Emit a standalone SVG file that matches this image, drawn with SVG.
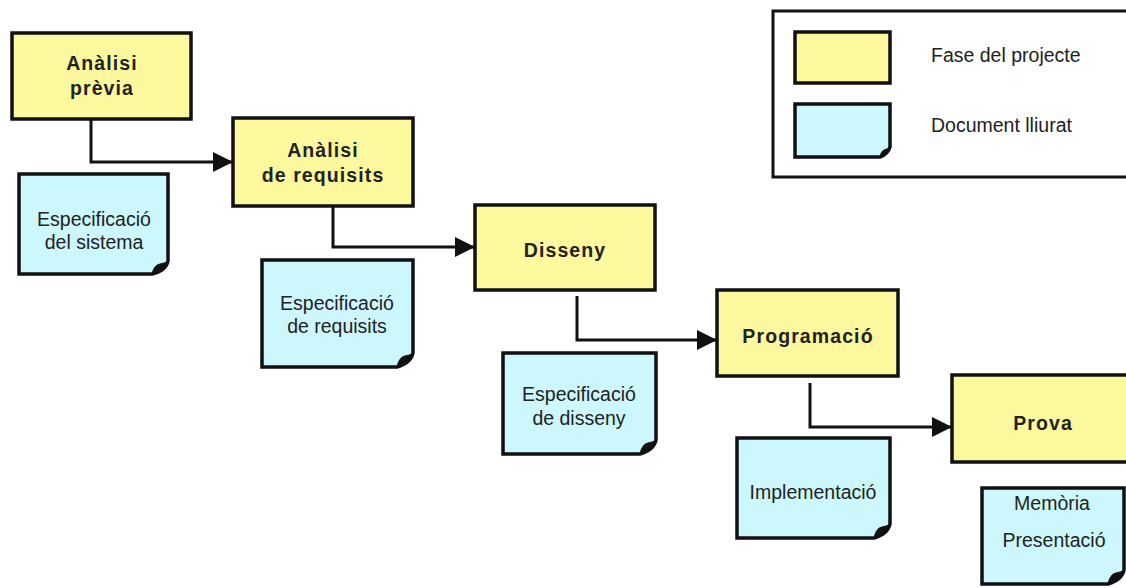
<svg xmlns="http://www.w3.org/2000/svg" width="1126" height="588" viewBox="0 0 1126 588">
  <style>
    .phase { fill: #FCF89E; stroke: #111; stroke-width: 3.5; }
    .doc { fill: #CCF7FC; stroke: #111; stroke-width: 3.5; stroke-linejoin: miter; }
    .curl { fill: #111; stroke: #111; stroke-width: 1; }
    .frame { fill: #fff; stroke: #111; stroke-width: 3; }
    .ptext { font-family: "Liberation Sans", Arial, sans-serif; font-weight: bold; font-size: 19.5px; letter-spacing: 1.1px; fill: #222; text-anchor: middle; }
    .dtext { font-family: "Liberation Sans", Arial, sans-serif; font-size: 19.5px; fill: #222; text-anchor: middle; }
    .ltext { font-family: "Liberation Sans", Arial, sans-serif; font-size: 19.5px; fill: #222; }
    .flow { fill: none; stroke: #111; stroke-width: 3; marker-end: url(#arrow); }
  </style>
  <defs>
    <marker id="arrow" markerUnits="userSpaceOnUse" markerWidth="22" markerHeight="22" viewBox="0 0 22 22" refX="21" refY="11" orient="auto">
      <path d="M1,1 L21,11 L1,21 Z" fill="#111"/>
    </marker>
  </defs>
  <rect width="1126" height="588" fill="#fff"/>

  <!-- legend -->
  <g id="legend">
    <rect class="frame" x="773" y="11" width="360" height="166"/>
    <rect class="phase" x="795" y="32" width="95" height="51"/>
    <path class="doc" d="M795,104 H890 V147 Q888,154 880,157 H795 Z"/>
    <path class="curl" d="M880,157 Q881,151 884,150 Q888,149 890,147 Q888,154 880,157 Z"/>
    <text class="ltext" x="931" y="62">Fase del projecte</text>
    <text class="ltext" x="931" y="132">Document lliurat</text>
  </g>

  <!-- connectors -->
  <g id="connectors">
    <path class="flow" d="M91,119 V162 H233"/>
    <path class="flow" d="M333,206 V247 H475"/>
    <path class="flow" d="M577,296 V340 H717"/>
    <path class="flow" d="M810,383 V427 H952"/>
  </g>

  <!-- project phases -->
  <g id="analisi-previa">
    <rect class="phase" x="12" y="33" width="179" height="86"/>
    <text class="ptext" x="102" y="70">Anàlisi</text>
    <text class="ptext" x="102" y="95">prèvia</text>
  </g>
  <g id="analisi-requisits">
    <rect class="phase" x="233" y="118" width="180" height="88"/>
    <text class="ptext" x="323" y="157">Anàlisi</text>
    <text class="ptext" x="323" y="182">de requisits</text>
  </g>
  <g id="disseny">
    <rect class="phase" x="475" y="205" width="180" height="85"/>
    <text class="ptext" x="565" y="257">Disseny</text>
  </g>
  <g id="programacio">
    <rect class="phase" x="717" y="290" width="181" height="86"/>
    <text class="ptext" x="808" y="343">Programació</text>
  </g>
  <g id="prova">
    <rect class="phase" x="952" y="375" width="182" height="87"/>
    <text class="ptext" x="1043" y="430">Prova</text>
  </g>

  <!-- delivered documents -->
  <g id="doc-sistema">
    <path class="doc" d="M19,174 H168 V261 Q166,271 152,274 H19 Z"/>
    <path class="curl" d="M152,274 Q154,265 160,264 Q166,263 168,261 Q166,271 152,274 Z"/>
    <text class="dtext" x="94" y="226">Especificació</text>
    <text class="dtext" x="94" y="249">del sistema</text>
  </g>
  <g id="doc-requisits">
    <path class="doc" d="M262,260 H413 V353 Q411,363 397,367 H262 Z"/>
    <path class="curl" d="M397,367 Q399,357 405,356 Q411,355 413,353 Q411,363 397,367 Z"/>
    <text class="dtext" x="337" y="310">Especificació</text>
    <text class="dtext" x="337" y="333">de requisits</text>
  </g>
  <g id="doc-disseny">
    <path class="doc" d="M503,353 H656 V440 Q654,450 640,454 H503 Z"/>
    <path class="curl" d="M640,454 Q642,444 648,443 Q654,442 656,440 Q654,450 640,454 Z"/>
    <text class="dtext" x="579" y="401">Especificació</text>
    <text class="dtext" x="579" y="425">de disseny</text>
  </g>
  <g id="doc-implementacio">
    <path class="doc" d="M737,438 H890 V524 Q888,534 874,538 H737 Z"/>
    <path class="curl" d="M874,538 Q876,528 882,527 Q888,526 890,524 Q888,534 874,538 Z"/>
    <text class="dtext" x="813" y="499">Implementació</text>
  </g>
  <g id="doc-memoria">
    <path class="doc" d="M982,488 H1124 V570 Q1122,580 1108,584 H982 Z"/>
    <path class="curl" d="M1108,584 Q1110,574 1116,573 Q1122,572 1124,570 Q1122,580 1108,584 Z"/>
    <text class="dtext" x="1052" y="510">Memòria</text>
    <text class="dtext" x="1054" y="547">Presentació</text>
  </g>
</svg>
